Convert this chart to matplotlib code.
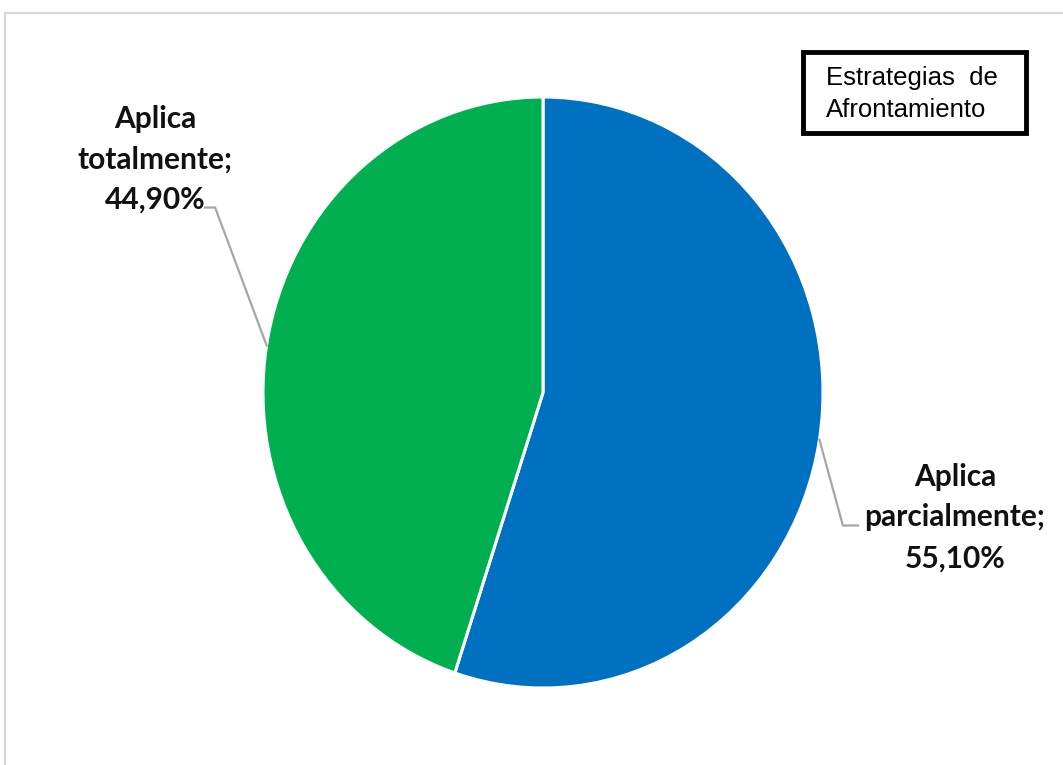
import numpy as np
import matplotlib
matplotlib.use("Agg")
import matplotlib.pyplot as plt
from matplotlib.patches import Rectangle
from matplotlib.lines import Line2D

categories = ["Aplica parcialmente", "Aplica totalmente"]
values = [55.10, 44.90]
colors = ["#0070C0", "#00B050"]
title_text = "Estrategias  de\nAfrontamiento"

W, H = 1063, 765
fig = plt.figure(figsize=(W / 100, H / 100), dpi=100)

# border (left and top) in light gray
fig.add_artist(Line2D([5 / W, 5 / W], [0, 1 - 13 / H], color="#D9D9D9", lw=1.6, transform=fig.transFigure))
fig.add_artist(Line2D([5 / W, 1], [1 - 13 / H, 1 - 13 / H], color="#D9D9D9", lw=1.6, transform=fig.transFigure))

# pie axes: pixel box 263..823 x, 97..688 y
ax = fig.add_axes([263 / W, (H - 688) / H, 560 / W, 591 / H])
wedges, _ = ax.pie(values, colors=colors, startangle=90, counterclock=False,
                   wedgeprops=dict(edgecolor="white", linewidth=2.2))
ax.set_aspect("auto")
ax.set_xlim(-1, 1)
ax.set_ylim(-1, 1)
ax.axis("off")

def fmt(v):
    return f"{v:.2f}".replace(".", ",") + "%"

# label layout: (elbow, end of horizontal, text center)
layout = [
    ((1.071, -0.450), (1.125, -0.450), (1.471, -0.423)),
    ((-1.171, 0.626), (-1.207, 0.626), (-1.386, 0.789)),
]
for w, cat, v, (elb, end, tc) in zip(wedges, categories, values, layout):
    mid = np.deg2rad((w.theta1 + w.theta2) / 2)
    p = (np.cos(mid), np.sin(mid))
    ax.plot([p[0], elb[0], end[0]], [p[1], elb[1], end[1]], color="#A6A6A6", lw=1.6,
            clip_on=False, solid_joinstyle="miter")
    words = cat.split(" ")
    label = f"{words[0]}\n{words[1]};\n{fmt(v)}"
    ax.text(tc[0], tc[1], label, ha="center", va="center", fontsize=21.5,
            fontweight="bold", family="Lato", color="#111111", linespacing=1.55,
            clip_on=False)

# title box
fig.add_artist(Rectangle((803 / W, 1 - 133 / H), 223 / W, 81 / H, transform=fig.transFigure,
                         facecolor="white", edgecolor="black", lw=3.5))
fig.text(826 / W, 1 - 94 / H, title_text, ha="left", va="center", fontsize=18.5,
         family="Liberation Sans", color="black", linespacing=1.38)

fig.savefig("out.png", dpi=100)
